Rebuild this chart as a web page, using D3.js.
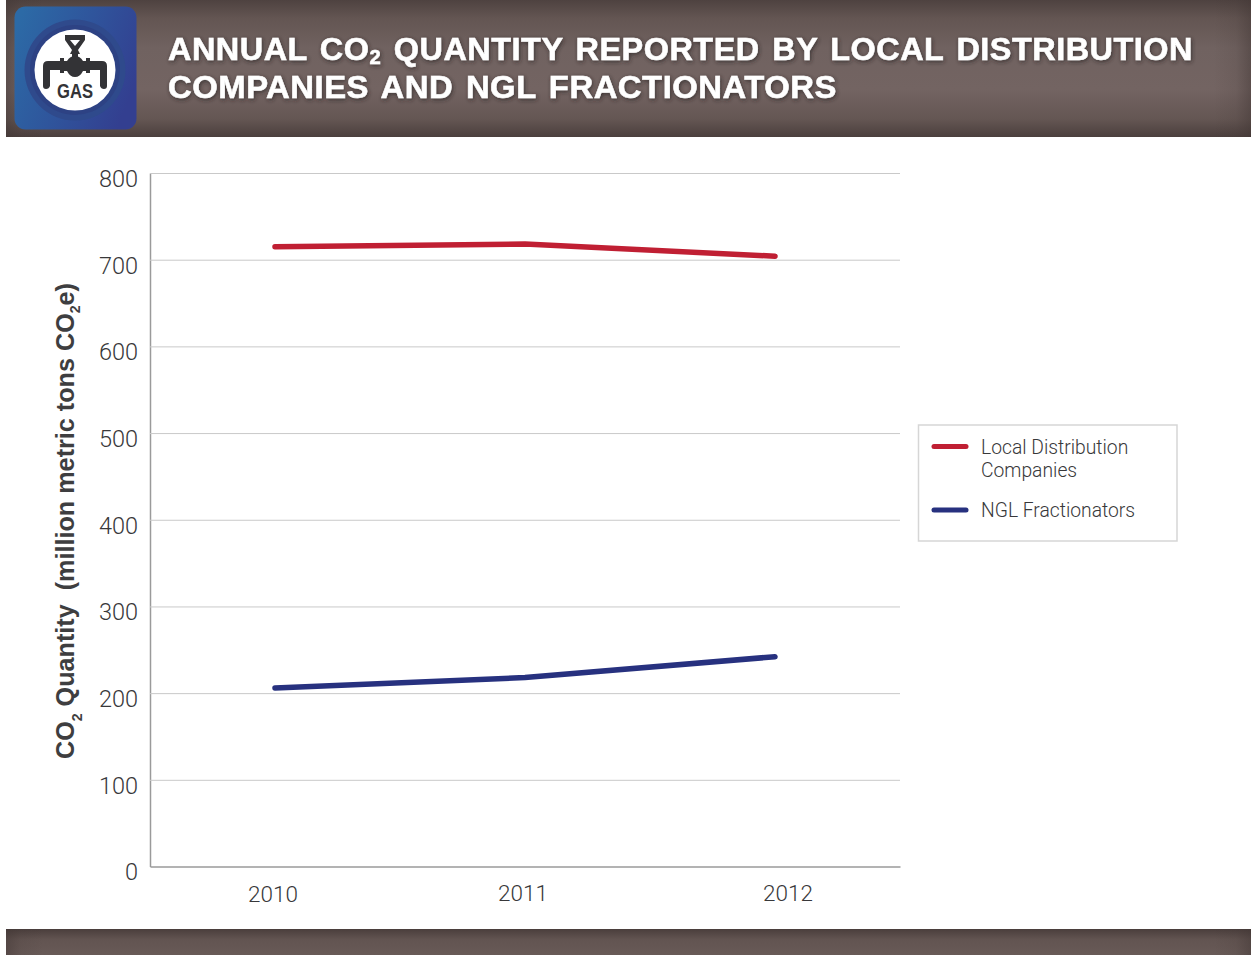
<!DOCTYPE html>
<html>
<head>
<meta charset="utf-8">
<script src="https://cdn.jsdelivr.net/npm/d3@7/dist/d3.min.js"></script>
<style>
  html, body { margin: 0; padding: 0; background: #fff; }
  svg { display: block; }
  .tick-label { font-family: Roboto, sans-serif; font-weight: 300; font-size: 23.5px; fill: #38383a; }
  .x-label { font-size: 22.5px; }
  .legend-label { font-family: Roboto, sans-serif; font-weight: 300; font-size: 19.3px; fill: #38383a; }
  .axis-title { font-family: "Liberation Sans", sans-serif; font-weight: 700; font-size: 25px; fill: #3e3e40; }
  .banner-title { font-family: "Liberation Sans", sans-serif; font-weight: 700; font-size: 32px; letter-spacing: 0.5px; word-spacing: 3px; fill: #fff; stroke: #fff; stroke-width: 0.5px; }
</style>
</head>
<body>
<script>
// Annual CO2 quantity, million metric tons CO2e
const years = ["2010", "2011", "2012"];
const localDistribution = [715, 718, 704];
const nglFractionators = [206, 218, 242];
const yTicks = [0, 100, 200, 300, 400, 500, 600, 700, 800];
const seriesNames = ["Local Distribution Companies", "NGL Fractionators"];
const seriesColors = ["#c01f33", "#27317f"];

const width = 1251, height = 955;
const plot = { left: 150, right: 900, top: 173, bottom: 866.5 };

const svg = d3.select("body").append("svg")
  .attr("width", width).attr("height", height);
const defs = svg.append("defs");

// Banner shading: lighter in the middle, darkening towards the edges
const vShade = defs.append("linearGradient").attr("id", "bannerV")
  .attr("x1", 0).attr("y1", 0).attr("x2", 0).attr("y2", 1);
[[0, "#4e4240"], [0.13, "#635552"], [0.35, "#706260"], [0.65, "#736462"], [0.87, "#645653"], [1, "#4b3f3d"]]
  .forEach(([o, c]) => vShade.append("stop").attr("offset", o).attr("stop-color", c));

const footShade = defs.append("linearGradient").attr("id", "footerV")
  .attr("x1", 0).attr("y1", 0).attr("x2", 0).attr("y2", 1);
[[0, "#4a3e3c"], [0.4, "#625451"], [1, "#685a57"]]
  .forEach(([o, c]) => footShade.append("stop").attr("offset", o).attr("stop-color", c));

const edgeShade = defs.append("linearGradient").attr("id", "bannerEdge");
[[0, 0.45], [0.012, 0.12], [0.03, 0], [0.97, 0], [0.988, 0.12], [1, 0.45]]
  .forEach(([o, a]) => edgeShade.append("stop").attr("offset", o)
    .attr("stop-color", "#3f3432").attr("stop-opacity", a));

const iconFill = defs.append("linearGradient").attr("id", "iconFill")
  .attr("x1", 0).attr("y1", 0.2).attr("x2", 1).attr("y2", 0.6);
[[0, "#2c6aa6"], [0.5, "#2f559c"], [1, "#333f90"]]
  .forEach(([o, c]) => iconFill.append("stop").attr("offset", o).attr("stop-color", c));

const titleShadow = defs.append("filter").attr("id", "titleShadow")
  .attr("x", "-5%").attr("y", "-30%").attr("width", "110%").attr("height", "160%");
titleShadow.append("feDropShadow").attr("dx", 1).attr("dy", 1.5)
  .attr("stdDeviation", 2).attr("flood-color", "#2c2423").attr("flood-opacity", 0.75);

// Header and footer bands
const bands = svg.append("g");
bands.append("rect").attr("x", 6).attr("y", 0).attr("width", width - 6).attr("height", 137).attr("fill", "url(#bannerV)");
bands.append("rect").attr("x", 6).attr("y", 0).attr("width", width - 6).attr("height", 137).attr("fill", "url(#bannerEdge)");
bands.append("rect").attr("x", 6).attr("y", 929).attr("width", width - 6).attr("height", 26).attr("fill", "url(#footerV)");
bands.append("rect").attr("x", 6).attr("y", 929).attr("width", width - 6).attr("height", 26).attr("fill", "url(#bannerEdge)");

// Gas sector badge
const badge = svg.append("g");
badge.append("rect").attr("x", 14.5).attr("y", 6.5).attr("width", 122).attr("height", 123).attr("rx", 11)
  .attr("fill", "url(#iconFill)");
badge.append("circle").attr("cx", 75).attr("cy", 70).attr("r", 50.5).attr("fill", "#2f4a8c");
badge.append("circle").attr("cx", 75).attr("cy", 70).attr("r", 45).attr("fill", "#2d4284");
badge.append("circle").attr("cx", 75).attr("cy", 70).attr("r", 40.5).attr("fill", "#fff");
const glyph = "#333336";
badge.append("path").attr("fill", glyph).attr("d",
  "M65,35 H85 V40 L78,50 L80,54 H70 L72,50 L65,40 Z M70,40 L75,46 L80,40 Z");
badge.append("rect").attr("x", 72).attr("y", 52).attr("width", 6).attr("height", 8).attr("fill", glyph);
badge.append("path").attr("fill", glyph).attr("d",
  "M43,86 V66 Q43,61 48,61 H60 V58 H64 V61 H67 Q70,56 75,56 Q80,56 83,61 H86 V58 H90 V61 H102 Q107,61 107,66 V86 Q107,89 104,89 Q101,89 100,86 V70 H90 V73 H86 V71 H83 Q80,77 75,77 Q70,77 67,71 H64 V73 H60 V70 H50 V86 Q49,89 46,89 Q43,89 43,86 Z");
badge.append("text").attr("x", 75).attr("y", 98).attr("text-anchor", "middle")
  .attr("font-family", "'Liberation Sans', sans-serif").attr("font-weight", 700)
  .attr("font-size", 21).attr("fill", glyph).attr("textLength", 36).attr("lengthAdjust", "spacingAndGlyphs")
  .text("GAS");

// Banner title
const title = svg.append("g").attr("filter", "url(#titleShadow)");
const line1 = title.append("text").attr("class", "banner-title").attr("x", 168).attr("y", 59.5)
  .attr("textLength", 1025).attr("lengthAdjust", "spacingAndGlyphs");
line1.append("tspan").text("ANNUAL CO");
line1.append("tspan").attr("font-size", 20).attr("dy", 4).text("2");
line1.append("tspan").attr("dy", -4).text(" QUANTITY REPORTED BY LOCAL DISTRIBUTION");
title.append("text").attr("class", "banner-title").attr("x", 168).attr("y", 98)
  .attr("textLength", 669).attr("lengthAdjust", "spacingAndGlyphs")
  .text("COMPANIES AND NGL FRACTIONATORS");

// Scales
const x = d3.scaleBand().domain(years).range([plot.left, plot.right]);
const y = d3.scaleLinear().domain([0, 800]).range([plot.bottom, plot.top]);

// Horizontal gridlines and left-hand value axis
const yAxis = svg.append("g").attr("transform", `translate(${plot.left},0)`)
  .call(d3.axisLeft(y).tickValues(yTicks).tickSize(0).tickPadding(12));
yAxis.select(".domain").attr("stroke", "#9a9a9a").attr("stroke-width", 1.5);
yAxis.selectAll(".tick text").attr("class", "tick-label").attr("dy", "0.72em")
  .attr("transform", "translate(0,-3.5)");
yAxis.selectAll(".tick").filter(d => d > 0).append("line")
  .attr("x1", 0).attr("x2", plot.right - plot.left)
  .attr("stroke", "#c9c9c9").attr("stroke-width", 1);

// Category axis along the bottom
const xAxis = svg.append("g").attr("transform", `translate(0,${plot.bottom})`)
  .call(d3.axisBottom(x).tickSize(0).tickPadding(19));
xAxis.select(".domain").attr("stroke", "#9a9a9a").attr("stroke-width", 1.5);
xAxis.selectAll(".tick text").attr("class", "tick-label x-label")
  .attr("dx", d => d === "2012" ? 13 : -2)
  .attr("transform", d => d === "2010" ? "translate(0,1)" : null);

// Rotated axis title, with a subscript in CO2 and CO2e
const axisTitle = svg.append("text").attr("class", "axis-title")
  .attr("transform", "translate(74,759) rotate(-90)")
  .attr("textLength", 476).attr("lengthAdjust", "spacingAndGlyphs");
axisTitle.append("tspan").text("CO");
axisTitle.append("tspan").attr("font-size", 14).attr("dy", 8).text("2");
axisTitle.append("tspan").attr("dy", -8).attr("xml:space", "preserve").text(" Quantity  (million metric tons CO");
axisTitle.append("tspan").attr("font-size", 14).attr("dy", 6).text("2");
axisTitle.append("tspan").attr("dy", -6).text("e)");

// Series lines
const lineGen = d3.line()
  .x((d, i) => x(years[i]) + x.bandwidth() / 2)
  .y(d => y(d));
svg.append("g").selectAll("path")
  .data([localDistribution, nglFractionators])
  .join("path")
  .attr("d", lineGen)
  .attr("fill", "none")
  .attr("stroke", (d, i) => seriesColors[i])
  .attr("stroke-width", 5.5)
  .attr("stroke-linecap", "round")
  .attr("stroke-linejoin", "round");

// Legend
const legend = svg.append("g");
legend.append("rect").attr("x", 918.5).attr("y", 425).attr("width", 258.5).attr("height", 116)
  .attr("fill", "#fff").attr("stroke", "#d6d6d6").attr("stroke-width", 1.5);
[446.5, 510].forEach((ly, i) => {
  legend.append("line").attr("x1", 934).attr("x2", 966).attr("y1", ly).attr("y2", ly)
    .attr("stroke", seriesColors[i]).attr("stroke-width", 5).attr("stroke-linecap", "round");
});
legend.append("text").attr("class", "legend-label").attr("x", 981).attr("y", 454).text("Local Distribution");
legend.append("text").attr("class", "legend-label").attr("x", 981).attr("y", 477).text("Companies");
legend.append("text").attr("class", "legend-label").attr("x", 981).attr("y", 517).text(seriesNames[1]);
</script>
</body>
</html>
